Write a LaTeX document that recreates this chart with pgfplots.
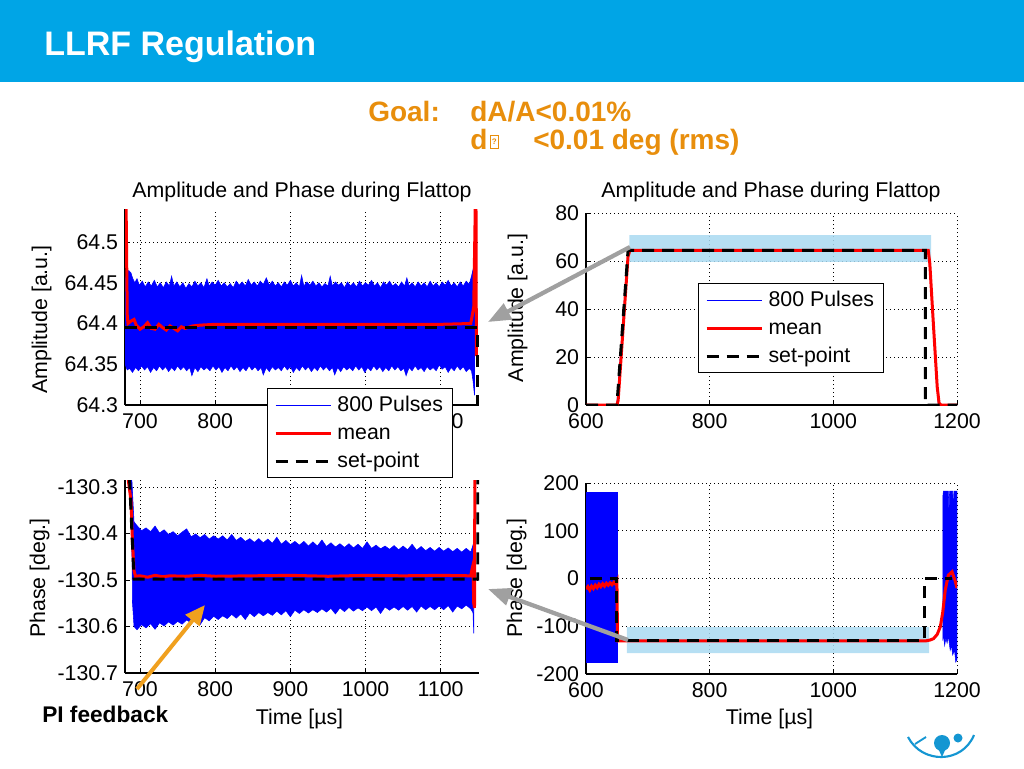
\documentclass[border=0pt]{standalone}
\usepackage{fontspec}
\setmainfont{Liberation Sans}
\usepackage{pgfplots}
\pgfplotsset{compat=1.18}
\usetikzlibrary{arrows.meta}
\definecolor{barblue}{RGB}{0,165,230}
\definecolor{goalorange}{RGB}{232,142,12}
\definecolor{hiblue}{RGB}{170,218,242}
\definecolor{arrgray}{RGB}{160,160,160}
\definecolor{arrorange}{RGB}{240,160,30}
\definecolor{logoblue}{RGB}{20,150,210}
\pgfplotsset{
  slideaxis/.style={
    scale only axis, anchor=south west,
    axis x line=bottom, axis y line=left,
    axis line style={-, line width=0.9pt, black},
    tick align=inside, major tick length=3pt,
    tick style={black, line width=0.6pt},
    grid=major,
    grid style={black, line width=0.7pt, dash pattern=on 0.75pt off 2.25pt},
    ticklabel style={font=\fontsize{16}{19}\selectfont},
    xticklabel style={inner sep=0pt, yshift=-6pt},
    yticklabel style={inner sep=0pt, xshift=-5pt},
    /pgf/number format/assume math mode=true,
    no markers,
    legend cell align=left,
    legend image code/.code={\draw[##1] (0pt,0pt) -- (41.25pt,0pt);},
    legend style={draw=black, line width=0.75pt, fill=white, inner xsep=5pt, inner ysep=1.9pt, column sep=2pt, font=\fontsize{16}{19}\selectfont, nodes={inner xsep=2pt, inner ysep=3pt, text height=12pt, text depth=3pt}},
  },
  pulses/.style={blue, line width=0.75pt},
  band/.style={fill=blue, draw=blue, line width=0.4pt, forget plot},
  meanline/.style={red, line width=2.25pt},
  setpt/.style={black, line width=2.25pt, dash pattern=on 9pt off 6pt},
}
\begin{document}
\begin{tikzpicture}
\useasboundingbox (0,0) rectangle (768pt,-576pt);
\fill[white] (0,0) rectangle (768pt,-576pt);
\begin{scope}[x=0.75pt,y=-0.75pt]
\fill[barblue] (0,0) rectangle (1024,82);
\node[anchor=base west, text=white, font=\fontsize{25.5}{30}\selectfont\bfseries, inner sep=0] at (44,55) {LLRF Regulation};
\begin{scope}[every node/.style={anchor=base west, text=goalorange, font=\fontsize{21}{24}\selectfont\bfseries, inner sep=0}]
\node at (368,121) {Goal:};
\node at (470,121) {dA/A<0.01\%};
\node at (470,149) {d};
\node at (533,149) {<0.01 deg (rms)};
\end{scope}
\node[draw=goalorange, line width=0.6pt, anchor=south west, minimum width=6.5pt, minimum height=9.5pt, inner sep=0pt, text=goalorange, font=\fontsize{6}{6}\selectfont\bfseries] at (489.5,148.5) {?};
\end{scope}

% ---------- top left: amplitude zoom ----------
\begin{axis}[slideaxis, at={(93.75pt,-303.75pt)}, width=265.5pt, height=146.7pt,
  xmin=680, xmax=1151, ymin=64.3, ymax=64.54,
  xtick={700,800,900,1000,1100}, xticklabels={700,800,900,1000,1100},
  ytick={64.3,64.35,64.4,64.45,64.5}, yticklabels={64.3,64.35,64.4,64.45,64.5},
  legend style={at={(0.401,0.0867)}, anchor=north west}]
\addplot[band] coordinates {
(680,64.350) (680,64.452) (682,64.460) (685,64.465) (688,64.462) (690,64.456) (693,64.450) (696,64.455) (699,64.447) (703,64.452) (707,64.445) (711,64.451) (715,64.446) (719,64.453) (723,64.445) (727,64.450) (731,64.444) (735,64.451) (739,64.446) (742,64.458) (745,64.446) (749,64.451) (753,64.445) (757,64.450) (761,64.443) (765,64.449) (769,64.445) (773,64.452) (777,64.446) (781,64.450) (785,64.444) (789,64.455) (792,64.446) (796,64.451) (800,64.447) (804,64.453) (808,64.446) (812,64.450) (816,64.445) (820,64.449) (824,64.444) (828,64.452) (832,64.447) (836,64.451) (840,64.446) (844,64.454) (848,64.447) (852,64.451) (856,64.446) (860,64.452) (864,64.448) (868,64.456) (872,64.447) (876,64.452) (880,64.446) (884,64.450) (888,64.445) (892,64.451) (896,64.447) (900,64.453) (904,64.446) (908,64.450) (912,64.445) (915,64.459) (918,64.446) (922,64.451) (926,64.447) (930,64.452) (934,64.446) (938,64.450) (942,64.445) (946,64.449) (950,64.446) (953,64.458) (956,64.446) (960,64.451) (964,64.447) (968,64.450) (972,64.444) (976,64.451) (980,64.446) (984,64.450) (988,64.445) (992,64.452) (996,64.446) (1000,64.450) (1004,64.447) (1008,64.453) (1012,64.446) (1016,64.450) (1020,64.444) (1024,64.451) (1028,64.447) (1032,64.452) (1036,64.446) (1040,64.449) (1044,64.445) (1048,64.451) (1052,64.446) (1055,64.456) (1058,64.446) (1062,64.450) (1066,64.445) (1070,64.451) (1074,64.446) (1078,64.450) (1082,64.445) (1086,64.452) (1090,64.446) (1094,64.450) (1098,64.445) (1102,64.451) (1106,64.447) (1110,64.453) (1114,64.446) (1118,64.450) (1122,64.445) (1126,64.451) (1130,64.446) (1134,64.452) (1138,64.448) (1141,64.458) (1143,64.466) (1145,64.440)
(1145,64.312) (1143,64.330) (1141,64.342) (1138,64.345) (1134,64.341) (1130,64.347) (1126,64.343) (1122,64.348) (1118,64.342) (1114,64.346) (1110,64.340) (1106,64.347) (1102,64.344) (1098,64.349) (1094,64.342) (1090,64.346) (1086,64.343) (1082,64.347) (1078,64.341) (1074,64.346) (1070,64.343) (1066,64.348) (1062,64.342) (1058,64.346) (1054,64.336) (1051,64.345) (1047,64.342) (1043,64.347) (1039,64.343) (1035,64.348) (1031,64.342) (1027,64.346) (1023,64.341) (1019,64.347) (1015,64.343) (1011,64.348) (1007,64.342) (1003,64.346) (999,64.340) (995,64.347) (991,64.343) (987,64.348) (983,64.342) (979,64.346) (975,64.343) (971,64.347) (967,64.341) (963,64.346) (959,64.337) (956,64.346) (952,64.342) (948,64.347) (944,64.343) (940,64.348) (936,64.342) (932,64.346) (928,64.341) (924,64.347) (920,64.343) (916,64.348) (912,64.342) (908,64.346) (904,64.340) (900,64.347) (896,64.343) (892,64.348) (888,64.342) (884,64.346) (880,64.343) (876,64.347) (872,64.341) (868,64.346) (864,64.337) (861,64.346) (857,64.342) (853,64.347) (849,64.343) (845,64.348) (841,64.342) (837,64.346) (833,64.341) (829,64.347) (825,64.343) (821,64.348) (817,64.342) (813,64.346) (809,64.340) (805,64.347) (801,64.343) (797,64.348) (793,64.342) (789,64.346) (785,64.343) (781,64.347) (777,64.341) (773,64.346) (769,64.336) (766,64.346) (762,64.342) (758,64.347) (754,64.343) (750,64.348) (746,64.342) (742,64.346) (738,64.341) (734,64.347) (730,64.343) (726,64.348) (722,64.342) (718,64.346) (714,64.340) (710,64.347) (706,64.343) (702,64.348) (698,64.342) (694,64.346) (690,64.340) (686,64.345) (683,64.343) (680,64.350)};
\addlegendimage{pulses}
\addlegendentry{800 Pulses}
\addplot[meanline] coordinates {
(680,64.54) (681.5,64.54) (683,64.41) (684,64.400) (688,64.403) (692,64.405) (695,64.398) (700,64.393) (705,64.396) (710,64.401) (715,64.394) (720,64.393) (725,64.399) (730,64.395) (735,64.392) (740,64.397) (745,64.394) (750,64.391) (755,64.396) (760,64.394) (770,64.397) (780,64.398) (800,64.399) (900,64.399) (1000,64.399) (1100,64.399) (1140,64.400) (1142,64.410) (1144,64.420) (1146,64.54) (1147,64.54) (1147.5,64.36)};
\addlegendentry{mean}
\addplot[setpt] coordinates {(680,64.3945) (1149.5,64.3945) (1149.5,64.3)};
\addlegendentry{set-point}
\end{axis}

% ---------- top right: amplitude full ----------
\begin{axis}[slideaxis, at={(439.5pt,-303.75pt)}, width=278.25pt, height=144pt,
  xmin=600, xmax=1200, ymin=0, ymax=80,
  xtick={600,800,1000,1200}, xticklabels={600,800,1000,1200},
  ytick={0,20,40,60,80}, yticklabels={0,20,40,60,80},
  legend style={at={(0.302,0.635)}, anchor=north west}]
\addplot[fill=hiblue, draw=none, forget plot, opacity=0.85] coordinates {(670,59.6) (1158,59.6) (1158,70.8) (670,70.8) (670,59.6)};
\addplot[pulses] coordinates {(600,0) (650,0) (668,64.4) (1154,64.4) (1170,0) (1200,0)};
\addlegendentry{800 Pulses}
\addplot[meanline] coordinates {(600,0) (650,0) (652,2) (668,62) (671,64.4) (1153.5,64.4) (1156,59) (1161.5,35) (1168,7.5) (1171,0.8) (1174,0) (1200,0)};
\addlegendentry{mean}
\addplot[setpt] coordinates {(600,0) (650,0) (668,64.4) (1149,64.4) (1149,0) (1200,0)};
\addlegendentry{set-point}
\end{axis}

% ---------- bottom left: phase zoom ----------
\begin{axis}[slideaxis, at={(93.75pt,-504.75pt)}, width=265.5pt, height=144.75pt,
  xmin=680, xmax=1151, ymin=-130.7, ymax=-130.285,
  xtick={700,800,900,1000,1100}, xticklabels={700,800,900,1000,1100},
  ytick={-130.7,-130.6,-130.5,-130.4,-130.3}, yticklabels={-130.7,-130.6,-130.5,-130.4,-130.3}]
\addplot[band] coordinates {
(686,-130.28) (689,-130.28) (692,-130.375) (696,-130.383) (702,-130.394) (708,-130.388) (714,-130.396) (720,-130.384) (726,-130.399) (732,-130.392) (738,-130.402) (744,-130.396) (750,-130.405) (756,-130.397) (762,-130.390) (768,-130.407) (774,-130.401) (780,-130.409) (786,-130.402) (792,-130.412) (798,-130.405) (804,-130.412) (810,-130.405) (816,-130.414) (822,-130.402) (828,-130.415) (834,-130.408) (840,-130.417) (846,-130.411) (852,-130.419) (858,-130.411) (864,-130.420) (870,-130.412) (876,-130.421) (882,-130.408) (888,-130.423) (894,-130.415) (900,-130.424) (906,-130.417) (912,-130.425) (918,-130.417) (924,-130.427) (930,-130.418) (936,-130.427) (942,-130.414) (948,-130.428) (954,-130.420) (960,-130.429) (966,-130.422) (972,-130.430) (978,-130.422) (984,-130.431) (990,-130.423) (996,-130.432) (1002,-130.418) (1008,-130.432) (1014,-130.425) (1020,-130.433) (1026,-130.427) (1032,-130.434) (1038,-130.426) (1044,-130.435) (1050,-130.427) (1056,-130.435) (1062,-130.423) (1068,-130.436) (1074,-130.428) (1080,-130.437) (1086,-130.430) (1092,-130.438) (1098,-130.430) (1104,-130.438) (1110,-130.431) (1116,-130.439) (1122,-130.432) (1128,-130.440) (1134,-130.432) (1140,-130.440) (1143,-130.425) (1144,-130.44)
(1144,-130.615) (1143,-130.570) (1140,-130.562) (1134,-130.554) (1128,-130.562) (1122,-130.556) (1116,-130.569) (1110,-130.555) (1104,-130.564) (1098,-130.556) (1092,-130.564) (1086,-130.557) (1080,-130.564) (1074,-130.556) (1068,-130.569) (1062,-130.557) (1056,-130.565) (1050,-130.557) (1044,-130.565) (1038,-130.558) (1032,-130.565) (1026,-130.558) (1020,-130.572) (1014,-130.558) (1008,-130.566) (1002,-130.558) (996,-130.566) (990,-130.560) (984,-130.567) (978,-130.559) (972,-130.568) (966,-130.560) (960,-130.573) (954,-130.561) (948,-130.569) (942,-130.562) (936,-130.570) (930,-130.564) (924,-130.571) (918,-130.564) (912,-130.572) (906,-130.565) (900,-130.579) (894,-130.566) (888,-130.575) (882,-130.567) (876,-130.576) (870,-130.570) (864,-130.577) (858,-130.570) (852,-130.579) (846,-130.571) (840,-130.585) (834,-130.573) (828,-130.582) (822,-130.574) (816,-130.583) (810,-130.577) (804,-130.585) (798,-130.578) (792,-130.588) (786,-130.581) (780,-130.596) (774,-130.583) (768,-130.592) (762,-130.586) (756,-130.595) (750,-130.589) (744,-130.597) (738,-130.590) (732,-130.599) (726,-130.592) (720,-130.606) (714,-130.594) (708,-130.603) (702,-130.596) (696,-130.607) (692,-130.600) (690,-130.550) (689,-130.400) (687,-130.320) (686,-130.28)};
\addplot[meanline] coordinates {
(684,-130.28) (688,-130.33) (690,-130.42) (692,-130.48) (694,-130.492) (700,-130.491) (710,-130.494) (720,-130.490) (730,-130.493) (740,-130.491) (760,-130.492) (780,-130.490) (800,-130.492) (850,-130.491) (900,-130.490) (950,-130.492) (1000,-130.490) (1050,-130.491) (1100,-130.490) (1140,-130.491) (1142,-130.475) (1143,-130.468) (1144,-130.55) (1145,-130.56) (1145.5,-130.28)};
\addplot[setpt] coordinates {(686,-130.28) (692,-130.498) (1149.5,-130.498) (1149.5,-130.28)};
\end{axis}

% ---------- bottom right: phase full ----------
\begin{axis}[slideaxis, at={(439.5pt,-505.5pt)}, width=278.25pt, height=143.25pt,
  xmin=600, xmax=1200, ymin=-200, ymax=200,
  xtick={600,800,1000,1200}, xticklabels={600,800,1000,1200},
  ytick={-200,-100,0,100,200}, yticklabels={-200,-100,0,100,200}]
\addplot[fill=hiblue, draw=none, forget plot, opacity=0.85] coordinates {(666,-156) (1155,-156) (1155,-101.6) (666,-101.6) (666,-156)};
\addplot[band] coordinates {(600,-175) (600,180) (651,180) (651,-175) (600,-175)};
\addplot[band] coordinates {(1177,-130) (1177,170) (1178,183) (1186,183) (1187,130) (1188,183) (1193,183) (1194,120) (1195,183) (1200,183) (1200,-170) (1198,-175) (1196,-150) (1193,-160) (1191,-140) (1189,-150) (1186,-120) (1184,-135) (1182,-125) (1180,-140) (1178,-115) (1177,-130)};
\addplot[meanline] coordinates {(600,-22) (603,-17) (606,-24) (609,-16) (612,-21) (615,-14) (618,-19) (621,-12) (624,-17) (627,-11) (630,-16) (633,-10) (636,-14) (639,-9) (642,-13) (645,-8) (648,-12) (650,-6) (651,-130.5) (1150,-130.5) (1156,-129) (1162,-126) (1168,-117) (1173,-101) (1177,-70) (1181,-24) (1186,7) (1192,14) (1197,-5) (1200,-20)};
\addplot[setpt] coordinates {(606,0) (650,0) (650,-130.5) (1148,-130.5) (1148,0) (1192,0)};
\end{axis}

\begin{scope}[x=0.75pt,y=-0.75pt]
\begin{scope}[every node/.style={font=\fontsize{16}{19}\selectfont, inner sep=0pt}]
\node[anchor=base] at (302,197) {Amplitude and Phase during Flattop};
\node[anchor=base] at (771,197) {Amplitude and Phase during Flattop};
\node[rotate=90, anchor=base] at (47,319.5) {Amplitude [a.u.]};
\node[rotate=90, anchor=base] at (523,308) {Amplitude [a.u.]};
\node[rotate=90, anchor=base] at (45,578) {Phase [deg.]};
\node[rotate=90, anchor=base] at (522,578) {Phase [deg.]};
\node[anchor=base] at (299.5,724) {Time [µs]};
\node[anchor=base] at (769.5,724) {Time [µs]};
\end{scope}
\node[anchor=base west, inner sep=0, font=\fontsize{17}{20}\selectfont\bfseries] at (42,722) {PI feedback};
\draw[arrgray, line width=3.2pt, -{Triangle[length=17pt,width=13pt]}] (630,247) -- (488,322);
\draw[arrgray, line width=3.2pt, -{Triangle[length=17pt,width=13pt]}] (628,640) -- (488,589);
\draw[arrorange, line width=3pt, -{Triangle[length=15pt,width=13pt]}] (137,689) -- (205,605);
% logo fragment
\draw[logoblue, line width=1.6pt] (908,737) .. controls (922,764) and (962,764) .. (974,735);
\fill[logoblue] (942,743) circle (8);
\fill[logoblue] (937.5,747) -- (946.5,747) -- (942,757) -- cycle;
\fill[logoblue] (958,738) circle (4.5);
\draw[logoblue, line width=1.4pt] (915,744) -- (926,737);
\end{scope}
\end{tikzpicture}
\end{document}
